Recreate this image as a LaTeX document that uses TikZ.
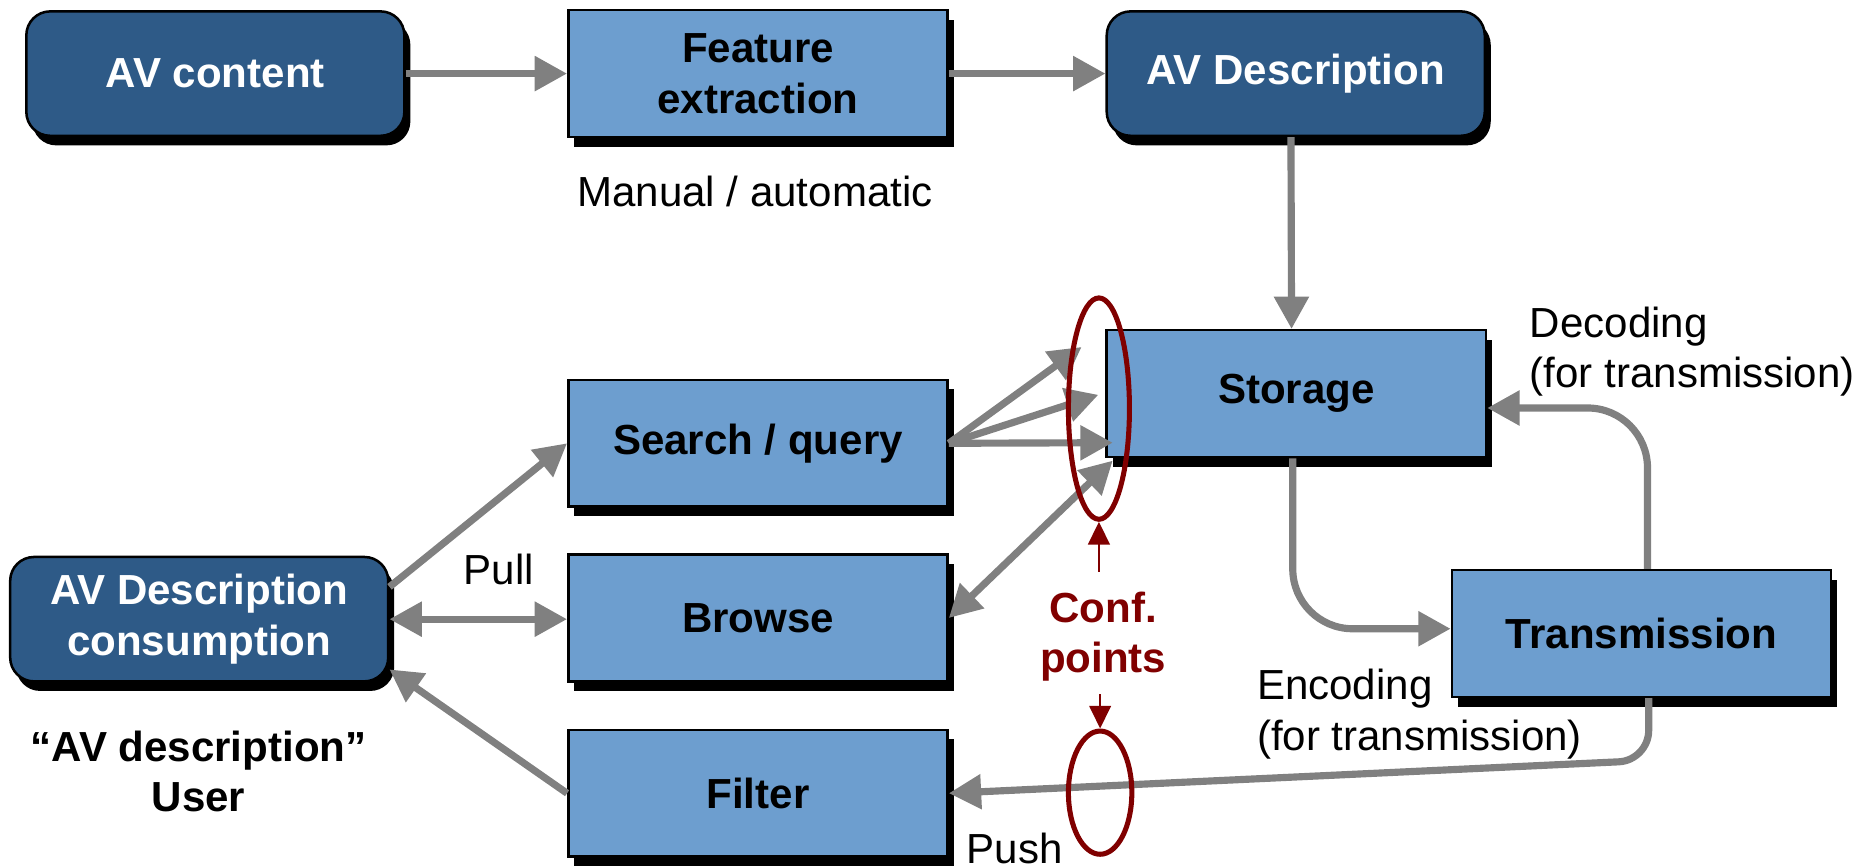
\documentclass[tikz,border=0pt]{standalone}
\usepackage{fontspec}
\setmainfont{Liberation Sans}
\usetikzlibrary{arrows.meta,shadows,shapes.geometric}
\definecolor{darkbox}{RGB}{46,90,135}
\definecolor{lightbox}{RGB}{109,158,207}
\definecolor{confred}{RGB}{128,0,0}

\begin{document}
\begin{tikzpicture}[
    font=\fontsize{10}{12}\selectfont,
    base/.style={draw=black,line width=0.6pt,align=center,inner sep=0pt,
      font=\fontsize{10}{12}\selectfont\bfseries,
      drop shadow={shadow xshift=0.05cm,shadow yshift=-0.08cm,opacity=1,fill=black}},
    dark/.style={base,fill=darkbox,text=white,rounded corners=0.2cm,
      minimum width=3.16cm,minimum height=1.04cm},
    light/.style={base,fill=lightbox,minimum width=3.17cm,minimum height=1.06cm},
    arr/.style={draw=gray,line width=1.7pt,-{Triangle[length=0.27cm,width=0.28cm]}},
    twoway/.style={arr,{Triangle[length=0.27cm,width=0.28cm]}-{Triangle[length=0.27cm,width=0.28cm]}},
    ring/.style={ellipse,draw=confred,line width=1.2pt,inner sep=0pt},
    confarr/.style={draw=confred,line width=0.6pt,-{Triangle[length=0.19cm,width=0.18cm]}}
  ]
\useasboundingbox (0,0) rectangle (15.68,-7.24);

\node[dark] (av) at (1.80,-0.615) {AV content};
\node[light] (feat) at (6.335,-0.615) {Feature\\extraction};
\node[dark] (desc) at (10.83,-0.615) {AV Description};
\node (manual) at (6.31,-1.60) {Manual / automatic};
\node[light] (store) at (10.835,-3.29) {Storage};
\node[light] (search) at (6.335,-3.705) {Search / query};
\node[light] (browse) at (6.335,-5.165) {Browse};
\node[light] (filter) at (6.335,-6.63) {Filter};
\node[dark] (cons) at (1.665,-5.175) {AV Description\\consumption};
\node[light] (trans) at (13.72,-5.295) {Transmission};
\node[align=center,font=\fontsize{10}{12}\selectfont\bfseries] (user) at (1.66,-6.45) {“AV description”\\User};
\node (pull) at (4.17,-4.76) {Pull};
\node (push) at (8.48,-7.09) {Push};
\node[align=left,anchor=west,inner sep=0pt] (dec) at (12.78,-2.94) {Decoding\\(for transmission)};
\node[align=left,anchor=west,inner sep=0pt] (enc) at (10.50,-5.97) {Encoding\\(for transmission)};
\node[align=center,text=confred,inner sep=0.1cm,font=\fontsize{10}{12}\selectfont\bfseries] (conf) at (9.22,-5.32) {Conf.\\points};

\coordinate (fanA) at (9.04,-2.90);
\coordinate (fanB) at (9.18,-3.30);
\coordinate (fanC) at (9.30,-3.70);
\coordinate (fanD) at (9.30,-3.85);

\draw[arr] (av) -- (feat);
\draw[arr] (feat) -- (desc);
\draw[arr] ([xshift=-0.04cm]desc.south) -- ([xshift=-0.04cm]store.north);
\draw[arr] (search.east) -- (fanA);
\draw[arr] (search.east) -- (fanB);
\draw[arr] (search.east) -- (fanC);
\draw[twoway] (browse.east) -- (fanD);
\draw[arr] ([yshift=0.27cm]cons.east) -- (search.west);
\draw[twoway] (cons.east) -- (cons.east -| browse.west);
\draw[arr] (filter.west) -- ([yshift=-0.42cm]cons.east);
\draw[arr,rounded corners=0.5cm] ([xshift=-0.03cm]store.south) |- ([yshift=0.04cm]trans.west);
\draw[arr,rounded corners=0.5cm] ([xshift=0.05cm]trans.north) |- ([yshift=-0.12cm]store.east);
\draw[arr,rounded corners=0.25cm] ([xshift=0.06cm]trans.south) -- ++(0,-0.52) -- (filter.east);

\node[ring,minimum width=0.51cm,minimum height=1.85cm] (ringtop) at (9.185,-3.415) {};
\node[ring,minimum width=0.53cm,minimum height=1.03cm] (ringbot) at (9.195,-6.625) {};
\draw[confarr] ([yshift=0.06cm]conf.north -| ringtop.south) -- (ringtop.south);
\draw[confarr] (conf.south -| ringbot.north) -- (ringbot.north);
\end{tikzpicture}
\end{document}
